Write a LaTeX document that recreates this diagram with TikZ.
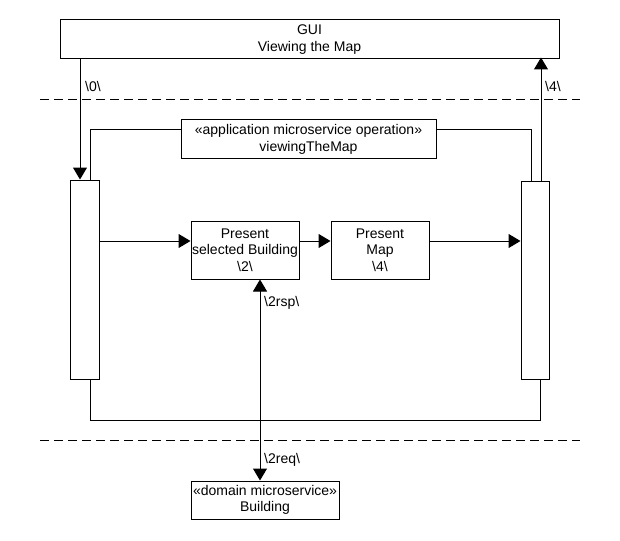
\documentclass[tikz,border=0pt]{standalone}
\usepackage{fontspec}
\setmainfont{Liberation Sans}
\usetikzlibrary{arrows.meta}
\begin{document}
\begin{tikzpicture}[x=1pt,y=-1pt,
  every node/.style={font=\fontsize{14}{16.5}\selectfont},
  box/.style={draw,line width=1pt,inner sep=0pt,align=center},
  lifeline/.style={draw,line width=1pt,inner sep=0pt},
  conn/.style={line width=1pt},
  arr/.style={conn,-{Triangle[length=12pt,width=14pt]}},
  biarr/.style={conn,{Triangle[length=12pt,width=14pt]}-{Triangle[length=12pt,width=14pt]}},
  sep/.style={line width=1pt,dash pattern=on 9pt off 5pt},
  lbl/.style={anchor=west,inner sep=0pt}]
\useasboundingbox (0,0) rectangle (620,540);
% boxes
\node[box,minimum width=499pt,minimum height=39pt] (gui) at (309.5,39.5) {GUI\\Viewing the Map};
\node[box,minimum width=255pt,minimum height=39pt] (op) at (308.5,139.5) {«application microservice operation»\\viewingTheMap};
\node[box,minimum width=108pt,minimum height=58pt] (psb) at (245,250) {Present\\selected Building\\\textbackslash 2\textbackslash};
\node[box,minimum width=98pt,minimum height=58pt] (pm) at (380,250) {Present\\Map\\\textbackslash 4\textbackslash};
\node[box,minimum width=148pt,minimum height=38pt] (bld) at (265,500) {«domain microservice»\\Building};
\node[lifeline,minimum width=29pt,minimum height=199pt] (ll) at (84.5,279.5) {};
\node[lifeline,minimum width=28pt,minimum height=198pt] (lr) at (535,280) {};
% separators
\coordinate (s1a) at (40,100); \coordinate (s1b) at (580,100);
\coordinate (s2a) at (40,440); \coordinate (s2b) at (580,440);
\draw[sep] (s1a) -- (s1b);
\draw[sep] (s2a) -- (s2b);
% GUI <-> lifelines
\draw[arr] (gui.south -| 80,0) -- (ll.north -| 80,0);
\node[lbl] (l0) at (85,86) {\textbackslash 0\textbackslash};
\draw[arr] (lr.north -| 541,0) -- ([yshift=2pt]gui.south -| 541,0);
\node[lbl] (l4) at (545,86) {\textbackslash 4\textbackslash};
% operation frame
\draw[conn] (ll.north -| 90,0) |- (op.west |- 0,130);
\draw[conn] (op.east |- 0,130) -| (lr.north -| 531,0);
\draw[conn] (ll.south -| 90,0) |- (0,420 -| 540,0) coordinate (fr) -- (lr.south -| 540,0);
% flow
\draw[arr] (ll.east |- 0,241) -- (psb.west |- 0,241);
\draw[arr] (psb.east |- 0,241) -- (pm.west |- 0,241);
\draw[arr] (pm.east |- 0,241) -- (lr.west |- 0,241);
\draw[biarr] (bld.north -| 260,0) -- (psb.south -| 260,0);
\node[lbl] (lrsp) at (264,303) {\textbackslash 2rsp\textbackslash};
\node[lbl] (lreq) at (264,460) {\textbackslash 2req\textbackslash};
\end{tikzpicture}
\end{document}
